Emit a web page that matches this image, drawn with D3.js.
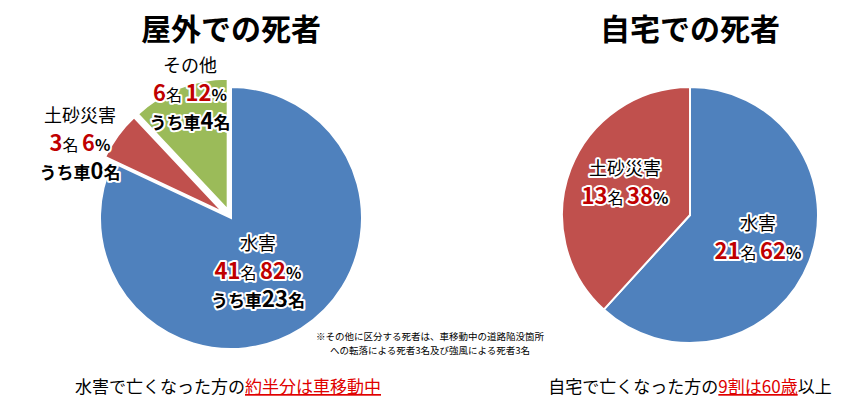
<!DOCTYPE html>
<html><head><meta charset="utf-8">
<script src="https://cdn.jsdelivr.net/npm/d3@7"></script>
<style>
body{margin:0;background:#fff;font-family:"Noto Sans CJK JP",sans-serif;}
.halo{paint-order:stroke;stroke:#fff;stroke-width:4px;stroke-linejoin:round;}
</style></head><body>
<svg id="c" width="865" height="417"></svg>
<script>
// 屋外での死者
const outdoorNames = ["水害", "土砂災害", "その他"];
const outdoorCounts = [41, 3, 6];
const outdoorPct = [82, 6, 12];
const outdoorCars = [23, 0, 4];
// 自宅での死者
const homeNames = ["水害", "土砂災害"];
const homeCounts = [21, 13];
const homePct = [62, 38];

const colors = ["#4f81bd", "#c0504d", "#9bbb59"];
const svg = d3.select("#c");

function drawPie(cx, cy, r, counts, explode) {
  const pie = d3.pie().sort(null).value(d => d)(counts);
  const arc = d3.arc().innerRadius(0).outerRadius(r);
  const g = svg.append("g").attr("transform", `translate(${cx},${cy})`);
  g.selectAll("path").data(pie).join("path")
    .attr("d", arc)
    .attr("fill", (d, i) => colors[i])
    .attr("stroke", "#fff").attr("stroke-width", 2)
    .attr("transform", (d, i) => {
      if (!explode || i === 0) return null;
      const a = (d.startAngle + d.endAngle) / 2;
      return `translate(${Math.sin(a) * 9},${-Math.cos(a) * 9})`;
    });
}

drawPie(231, 218, 131, outdoorCounts, true);
drawPie(690, 215, 128, homeCounts, false);

// titles
[["屋外での死者", 231], ["自宅での死者", 690]].forEach(([t, x]) =>
  svg.append("text").attr("x", x).attr("y", 40).attr("text-anchor", "middle")
    .attr("font-size", 30).attr("font-weight", 700).text(t));

function label(x, y, name, n, p, car) {
  const t = svg.append("g");
  t.append("text").attr("class", "halo").attr("x", x).attr("y", y).attr("text-anchor", "middle")
    .attr("font-size", 18).text(name);
  const l2 = t.append("text").attr("class", "halo").attr("x", x).attr("y", y + 29).attr("text-anchor", "middle");
  l2.append("tspan").attr("fill", "#c00000").attr("font-weight", 700).attr("font-size", 22).text(n);
  l2.append("tspan").attr("font-size", 16).text("名 ");
  l2.append("tspan").attr("fill", "#c00000").attr("font-weight", 700).attr("font-size", 22).text(p);
  l2.append("tspan").attr("font-size", 16).attr("font-weight", 700).text("%");
  if (car !== undefined) {
    const l3 = t.append("text").attr("class", "halo").attr("x", x).attr("y", y + 57).attr("text-anchor", "middle").attr("font-weight", 700);
    l3.append("tspan").attr("font-size", 17).text("うち車");
    l3.append("tspan").attr("font-size", 22).text(car);
    l3.append("tspan").attr("font-size", 17).text("名");
  }
}
label(258, 250, outdoorNames[0], outdoorCounts[0], outdoorPct[0], outdoorCars[0]);
label(80, 122, outdoorNames[1], outdoorCounts[1], outdoorPct[1], outdoorCars[1]);
label(190, 72, outdoorNames[2], outdoorCounts[2], outdoorPct[2], outdoorCars[2]);
label(758, 230, homeNames[0], homeCounts[0], homePct[0]);
label(625, 175, homeNames[1], homeCounts[1], homePct[1]);

// note
svg.append("text").attr("x", 430).attr("y", 340).attr("text-anchor", "middle").attr("font-size", 9.5)
  .text("※その他に区分する死者は、車移動中の道路陥没箇所");
svg.append("text").attr("x", 430).attr("y", 354).attr("text-anchor", "middle").attr("font-size", 9.5)
  .text("への転落による死者3名及び強風による死者3名");

// bottom captions
const b1 = svg.append("text").attr("x", 228).attr("y", 393).attr("text-anchor", "middle").attr("font-size", 17);
b1.append("tspan").text("水害で亡くなった方の");
b1.append("tspan").attr("fill", "#e00000").attr("text-decoration", "underline").text("約半分は車移動中");
const b2 = svg.append("text").attr("x", 690).attr("y", 393).attr("text-anchor", "middle").attr("font-size", 17);
b2.append("tspan").text("自宅で亡くなった方の");
b2.append("tspan").attr("fill", "#e00000").attr("text-decoration", "underline").text("9割は60歳");
b2.append("tspan").text("以上");
</script></body></html>
